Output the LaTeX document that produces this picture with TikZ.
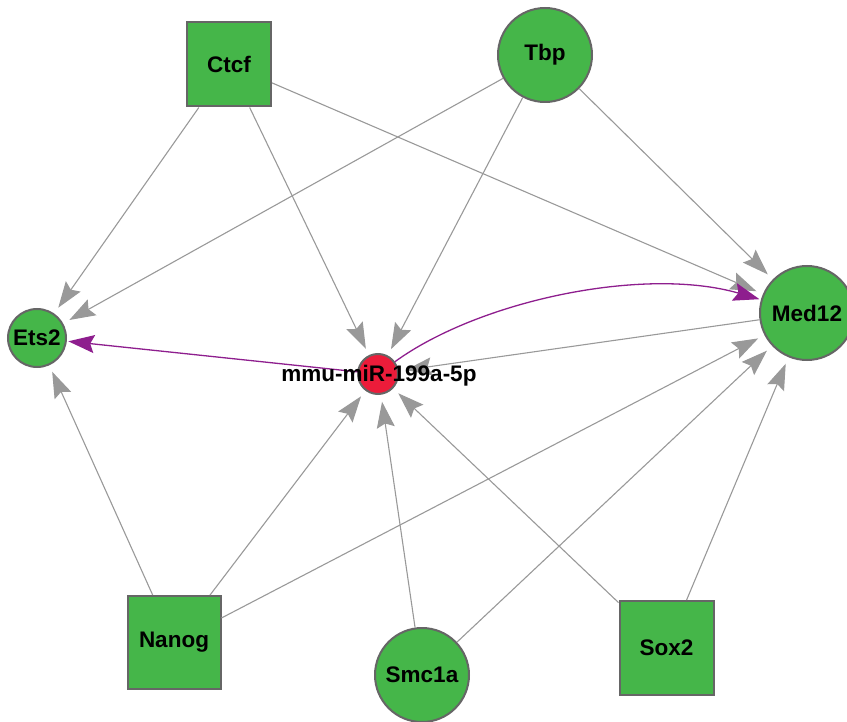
\documentclass[tikz,border=0pt]{standalone}
\usepackage{fontspec}
\setmainfont{Liberation Sans}
\usetikzlibrary{arrows.meta}
\definecolor{ngreen}{RGB}{69,182,73}
\definecolor{nred}{RGB}{236,28,58}
\definecolor{nborder}{RGB}{102,102,102}
\definecolor{egray}{RGB}{153,153,153}
\definecolor{epurple}{RGB}{142,30,142}
\begin{document}
\begin{tikzpicture}[x=1pt,y=-1pt,
  lbl/.style={font=\fontsize{22.5}{26}\selectfont\bfseries},
  gene/.style={fill=ngreen,draw=nborder,line width=2pt,lbl,inner sep=0pt},
  gcirc/.style={gene,circle},
  gsq/.style={gene,rectangle},
  tiparrow/.style={-{Stealth[length=26pt,width=18pt,inset=4pt]}},
  edge/.style={draw=egray,line width=1.1pt,tiparrow,shorten >=7pt},
  pedge/.style={draw=epurple,line width=1.3pt,tiparrow,shorten >=1.5pt}
]
\useasboundingbox (0,0) rectangle (847,722);
\node[gsq,minimum size=84pt] (ctcf) at (229,64.5) {Ctcf};
\node[gcirc,minimum size=94pt] (tbp) at (545,55) {Tbp};
\node[gcirc,minimum size=58pt] (ets2) at (37,338) {Ets2};
\node[gcirc,minimum size=94pt] (med12) at (807,313) {Med12};
\node[gsq,minimum size=93pt] (nanog) at (174,642.5) {Nanog};
\node[gcirc,minimum size=94pt] (smc1a) at (422,675) {Smc1a};
\node[gsq,minimum size=94pt] (sox2) at (666.5,648) {Sox2};
\node[circle,fill=nred,draw=nborder,line width=2pt,minimum size=40pt,inner sep=0pt] (mir) at (378,374) {};

\draw[edge] (ctcf) -- (ets2);
\draw[edge] (ctcf) -- (mir);
\draw[edge] (ctcf) -- (med12);
\draw[edge] (tbp) -- (ets2);
\draw[edge] (tbp) -- (mir);
\draw[edge] (tbp) -- (med12);
\draw[edge] (med12) -- (mir);
\draw[edge] (nanog) -- (ets2);
\draw[edge] (nanog) -- (mir);
\draw[edge] (nanog) -- (med12);
\draw[edge] (smc1a) -- (mir);
\draw[edge] (smc1a) -- (med12);
\draw[edge] (sox2) -- (mir);
\draw[edge] (sox2) -- (med12);
\draw[pedge] (mir) -- (ets2);
\draw[pedge] (mir) .. controls (480,300) and (645,266) .. (med12);

\node[lbl,inner sep=0pt] (mirlabel) at (379,376) {mmu-miR-199a-5p};
\end{tikzpicture}
\end{document}
